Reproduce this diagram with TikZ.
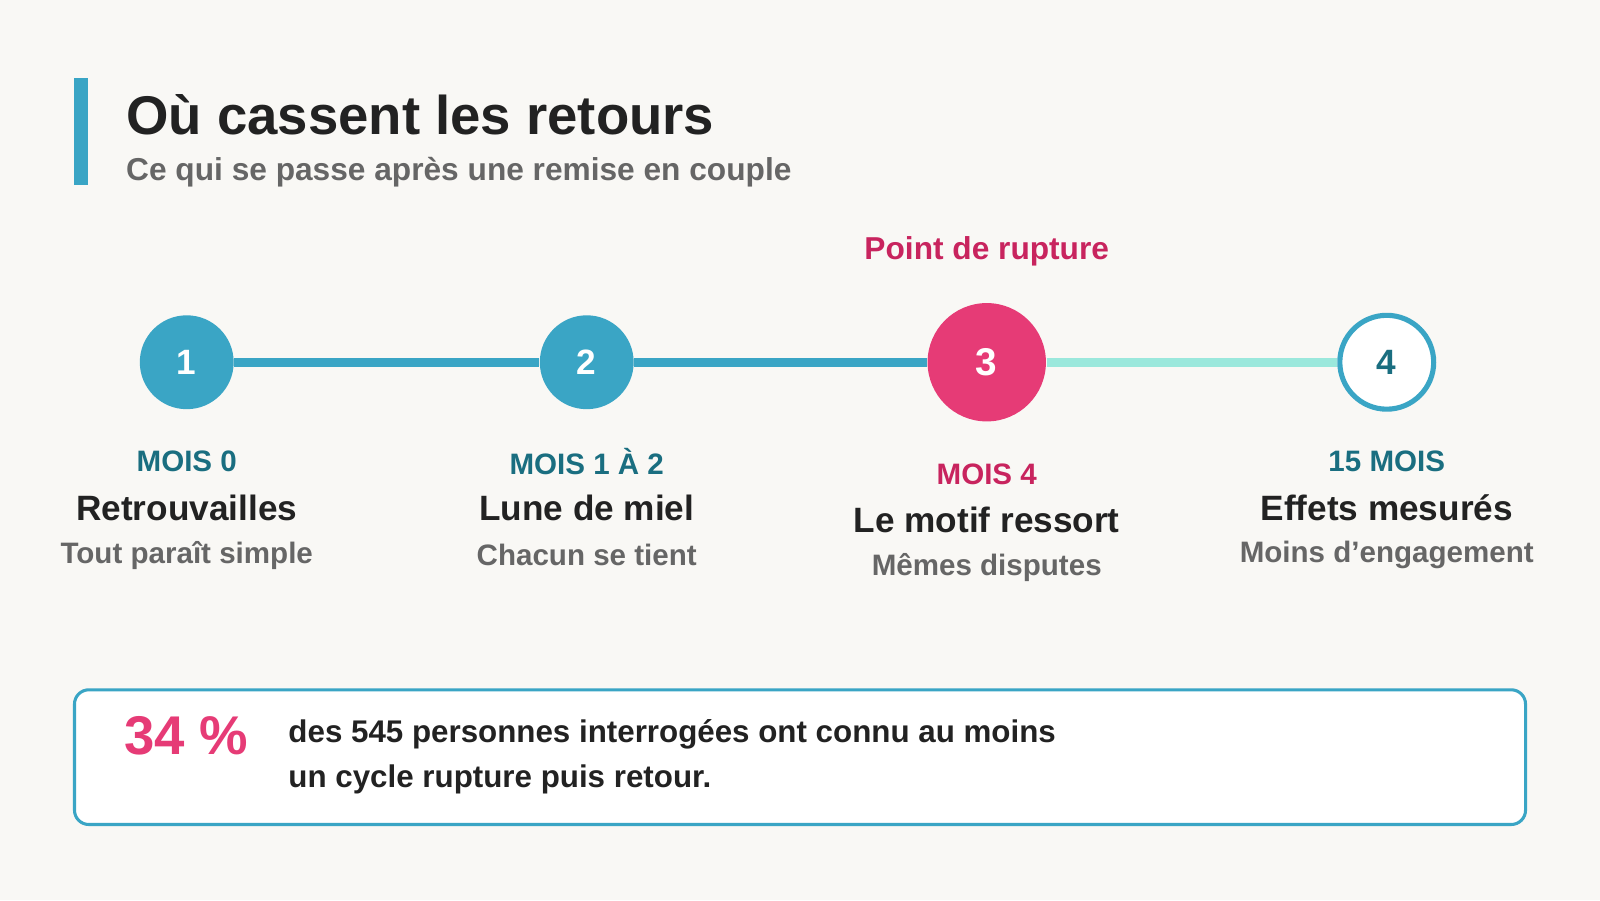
\documentclass[tikz,border=0pt]{standalone}
\usepackage{fontspec}
\setmainfont{Liberation Sans}
\usetikzlibrary{positioning}
\definecolor{bg}{HTML}{F9F8F5}
\definecolor{teal}{HTML}{3AA5C5}
\definecolor{deepteal}{HTML}{1A6E80}
\definecolor{pinkred}{HTML}{E63B76}
\definecolor{rupt}{HTML}{C8245E}
\definecolor{mint}{HTML}{9BE8DC}
\definecolor{greytxt}{HTML}{666666}
\definecolor{ink}{HTML}{222222}
\newlength{\pxu}\setlength{\pxu}{0.0102cm}
\tikzset{
  stage/.style={circle,minimum size=92\pxu,inner sep=0pt,fill=teal,text=white,font=\bfseries\fontsize{10}{12}\selectfont},
  when/.style={text=deepteal,font=\bfseries\fontsize{8.4}{10}\selectfont},
  what/.style={text=ink,font=\bfseries\fontsize{10}{12}\selectfont},
  how/.style={text=greytxt,font=\bfseries\fontsize{8.4}{10}\selectfont},
}
\begin{document}
\begin{tikzpicture}[x=0.0102cm,y=-0.0102cm]
\fill[bg] (0,0) rectangle (1568,882);
\useasboundingbox (0,0) rectangle (1568,882);

% header
\fill[teal] (73,76) rectangle (86,181);
\node[anchor=base west,inner sep=0pt,text=ink,font=\bfseries\fontsize{15.5}{18}\selectfont] (title) at (123,132) {Où cassent les retours};
\node[anchor=base west,inner sep=0pt,text=greytxt,font=\bfseries\fontsize{9}{11}\selectfont] (subtitle) at (123,177) {Ce qui se passe après une remise en couple};

% timeline
\node[stage] (s1) at (183,355) {1};
\node[stage] (s2) at (575,355) {2};
\node[stage,fill=pinkred,minimum size=116\pxu,font=\bfseries\fontsize{11}{13}\selectfont] (s3) at (967,355) {3};
\node[stage,fill=white,draw=teal,line width=5\pxu,minimum size=92\pxu,text=deepteal] (s4) at (1359,355) {4};
\draw[teal,line width=9\pxu] (s1) -- (s2);
\draw[teal,line width=9\pxu] (s2) -- (s3);
\draw[mint,line width=9\pxu] (s3) -- (s4);
\node[text=rupt,font=\bfseries\fontsize{9}{11}\selectfont] (rupture) at (967,246) {Point de rupture};

% labels
\node[when] (w1) at (183,452) {MOIS 0};
\node[what] (t1) at (183,498) {Retrouvailles};
\node[how] (h1) at (183,544) {Tout paraît simple};
\node[when] (w2) at (575,452) {MOIS 1 À 2};
\node[what] (t2) at (575,498) {Lune de miel};
\node[how] (h2) at (575,544) {Chacun se tient};
\node[when,text=rupt] (w3) at (967,465) {MOIS 4};
\node[what] (t3) at (967,510) {Le motif ressort};
\node[how] (h3) at (967,556) {Mêmes disputes};
\node[when] (w4) at (1359,452) {15 MOIS};
\node[what] (t4) at (1359,498) {Effets mesurés};
\node[how] (h4) at (1359,544) {Moins d'engagement};

% key figure
\draw[teal,fill=white,line width=3\pxu,rounded corners=14\pxu] (73,676) rectangle (1495,808);
\node[anchor=west,inner sep=0pt,text=pinkred,font=\bfseries\fontsize{15.5}{18}\selectfont] (pct) at (121,721) {34 \%};
\node[anchor=west,inner sep=0pt,align=left,text=ink,font=\bfseries\fontsize{8.9}{12.8}\selectfont] (fact) at (282,742) {des 545 personnes interrogées ont connu au moins\\un cycle rupture puis retour.};
\end{tikzpicture}
\end{document}
